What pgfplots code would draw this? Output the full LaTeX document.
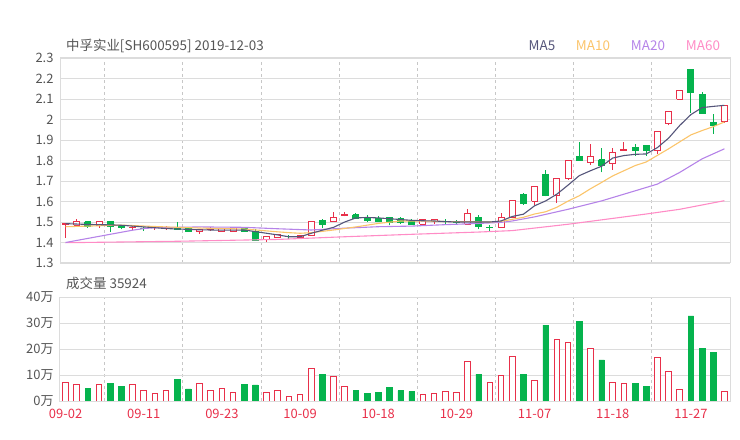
\documentclass[border=0pt]{standalone}
\usepackage{fontspec}
\setmainfont{Noto Sans CJK SC}
\usepackage{pgfplots}
\pgfplotsset{compat=1.18}
\definecolor{cred}{HTML}{E8304A}
\definecolor{cgreen}{HTML}{05B34D}
\definecolor{cma5}{HTML}{55557A}
\definecolor{cma10}{HTML}{FBC46A}
\definecolor{cma20}{HTML}{B583E8}
\definecolor{cma60}{HTML}{FF8CC6}
\definecolor{ctext}{HTML}{555555}
\definecolor{cgrid}{HTML}{DCDCDC}
\pgfplotsset{
  kbase/.style={scale only axis, width=670bp, xmin=-0.5, xmax=59.5,
    axis line style={draw=cgrid, line width=1bp},
    major tick length=0pt, minor tick length=0pt,
    ymajorgrids, grid style={draw=cgrid, line width=0.8bp},
    minor xtick={3.5,10.5,17.5,24.5,31.5,38.5,45.5,52.5},
    xminorgrids, minor grid style={draw=black!22, dash pattern=on 3bp off 3bp, line width=0.8bp},
    tick label style={font=\fontsize{13}{15}\selectfont, text=ctext},
    yticklabel style={xshift=-3bp},
    /pgf/number format/assume math mode=true},
  Rwick/.style={draw=cred, line width=1bp, mark=none, forget plot},
  Gwick/.style={draw=cgreen, line width=1bp, mark=none, forget plot},
  Rbody/.style={draw=cred, fill=white, line width=1bp, mark=none, forget plot},
  Gbody/.style={draw=cgreen, fill=cgreen, line width=1bp, mark=none, forget plot},
}
% candle: colour (R/G), index, open, close, low, high
\newcommand\candle[6]{%
  \pgfmathsetmacro\xa{#2-0.27}\pgfmathsetmacro\xb{#2+0.27}%
  \addplot[#1wick] coordinates {(#2,#5)(#2,#6)};
  \addplot[#1body] coordinates {(\xa,#3)(\xb,#3)(\xb,#4)(\xa,#4)(\xa,#3)};
}
\begin{document}
\begin{tikzpicture}
\path (0bp,0bp) rectangle (740bp,440bp);
\node[anchor=west, text=ctext, font=\fontsize{13.5}{16}\selectfont, inner sep=0] at (66bp,394bp) {中孚实业[SH600595] 2019-12-03};
\node[text=cma5, font=\fontsize{13.5}{16}\selectfont, inner sep=0] at (542bp,394bp) {MA5};
\node[text=cma10, font=\fontsize{13.5}{16}\selectfont, inner sep=0] at (593bp,394bp) {MA10};
\node[text=cma20, font=\fontsize{13.5}{16}\selectfont, inner sep=0] at (648bp,394bp) {MA20};
\node[text=cma60, font=\fontsize{13.5}{16}\selectfont, inner sep=0] at (703bp,394bp) {MA60};
\node[anchor=west, text=ctext, font=\fontsize{13.5}{16}\selectfont, inner sep=0] at (66bp,157bp) {成交量 35924};

\begin{axis}[kbase, at={(60bp,177bp)}, anchor=south west, height=205bp,
  ymin=1.3, ymax=2.3,
  ytick={1.3,1.4,1.5,1.6,1.7,1.8,1.9,2.0,2.1,2.2,2.3},
  yticklabels={1.3,1.4,1.5,1.6,1.7,1.8,1.9,2,2.1,2.2,2.3},
  xtick={0,7,14,21,28,35,42,49,56}, xticklabels={}]
% candles: colour, index, open, close, low, high
\candle{R}{0}{1.488}{1.492}{1.424}{1.497}
\candle{R}{1}{1.484}{1.502}{1.484}{1.513}
\candle{G}{2}{1.502}{1.480}{1.472}{1.502}
\candle{R}{3}{1.482}{1.502}{1.472}{1.502}
\candle{G}{4}{1.502}{1.480}{1.453}{1.502}
\candle{G}{5}{1.484}{1.471}{1.464}{1.484}
\candle{R}{6}{1.472}{1.474}{1.463}{1.479}
\candle{G}{7}{1.468}{1.466}{1.456}{1.474}
\candle{R}{8}{1.472}{1.474}{1.463}{1.482}
\candle{R}{9}{1.472}{1.474}{1.463}{1.482}
\candle{G}{10}{1.474}{1.463}{1.463}{1.502}
\candle{G}{11}{1.466}{1.453}{1.453}{1.472}
\candle{R}{12}{1.453}{1.464}{1.443}{1.464}
\candle{R}{13}{1.465}{1.467}{1.456}{1.474}
\candle{R}{14}{1.453}{1.466}{1.453}{1.466}
\candle{R}{15}{1.453}{1.472}{1.453}{1.472}
\candle{G}{16}{1.472}{1.453}{1.453}{1.472}
\candle{G}{17}{1.456}{1.412}{1.412}{1.464}
\candle{R}{18}{1.414}{1.427}{1.402}{1.427}
\candle{R}{19}{1.424}{1.437}{1.424}{1.437}
\candle{G}{20}{1.430}{1.427}{1.419}{1.435}
\candle{R}{21}{1.424}{1.435}{1.424}{1.435}
\candle{R}{22}{1.432}{1.502}{1.432}{1.502}
\candle{G}{23}{1.508}{1.489}{1.472}{1.516}
\candle{R}{24}{1.502}{1.521}{1.502}{1.550}
\candle{R}{25}{1.534}{1.536}{1.528}{1.549}
\candle{G}{26}{1.536}{1.518}{1.516}{1.544}
\candle{G}{27}{1.524}{1.508}{1.502}{1.533}
\candle{G}{28}{1.518}{1.500}{1.500}{1.531}
\candle{G}{29}{1.523}{1.497}{1.484}{1.523}
\candle{G}{30}{1.516}{1.498}{1.490}{1.524}
\candle{G}{31}{1.506}{1.490}{1.490}{1.515}
\candle{R}{32}{1.490}{1.511}{1.484}{1.511}
\candle{R}{33}{1.500}{1.511}{1.492}{1.511}
\candle{G}{34}{1.503}{1.500}{1.492}{1.515}
\candle{G}{35}{1.498}{1.496}{1.489}{1.508}
\candle{R}{36}{1.490}{1.542}{1.490}{1.562}
\candle{G}{37}{1.524}{1.480}{1.464}{1.533}
\candle{G}{38}{1.474}{1.472}{1.453}{1.484}
\candle{R}{39}{1.472}{1.521}{1.472}{1.542}
\candle{R}{40}{1.521}{1.603}{1.519}{1.603}
\candle{G}{41}{1.633}{1.590}{1.583}{1.641}
\candle{R}{42}{1.600}{1.672}{1.583}{1.672}
\candle{G}{43}{1.732}{1.628}{1.625}{1.752}
\candle{R}{44}{1.631}{1.713}{1.595}{1.713}
\candle{R}{45}{1.710}{1.801}{1.707}{1.801}
\candle{G}{46}{1.821}{1.800}{1.800}{1.890}
\candle{R}{47}{1.791}{1.821}{1.780}{1.880}
\candle{G}{48}{1.803}{1.778}{1.742}{1.860}
\candle{R}{49}{1.783}{1.840}{1.754}{1.860}
\candle{R}{50}{1.850}{1.852}{1.850}{1.890}
\candle{G}{51}{1.862}{1.849}{1.824}{1.881}
\candle{G}{52}{1.872}{1.849}{1.824}{1.872}
\candle{R}{53}{1.850}{1.942}{1.832}{1.942}
\candle{R}{54}{1.980}{2.040}{1.971}{2.040}
\candle{R}{55}{2.099}{2.140}{2.099}{2.140}
\candle{G}{56}{2.245}{2.132}{2.033}{2.245}
\candle{G}{57}{2.122}{2.029}{2.029}{2.132}
\candle{G}{58}{1.984}{1.970}{1.930}{2.029}
\candle{R}{59}{1.991}{2.070}{1.983}{2.070}
% moving averages
\addplot[cma60, line width=1.1bp, mark=none] coordinates {(0,1.399)(10,1.406)(19,1.415)(25,1.428)(31,1.440)(37,1.451)(40,1.458)(45,1.489)(52,1.539)(55,1.562)(59,1.604)};
\addplot[cma20, line width=1.1bp, mark=none] coordinates {(0,1.400)(2,1.420)(4,1.440)(6,1.460)(7,1.468)(8,1.472)(12,1.476)(16,1.474)(19,1.467)(22,1.461)(25,1.470)(28,1.477)(31,1.480)(34,1.487)(37,1.493)(39,1.498)(40,1.505)(42,1.525)(45,1.562)(48,1.603)(51,1.652)(53,1.685)(55,1.742)(57,1.808)(59,1.857)};
\addplot[cma10, line width=1.1bp, mark=none] coordinates {(0,1.477)(2,1.480)(5,1.485)(8,1.478)(10,1.474)(13,1.469)(16,1.466)(19,1.452)(20,1.448)(21,1.445)(22,1.448)(24,1.461)(26,1.476)(28,1.493)(30,1.505)(32,1.505)(34,1.502)(36,1.502)(38,1.500)(39,1.503)(40,1.513)(41,1.523)(42,1.539)(43,1.550)(44,1.572)(45,1.602)(46,1.628)(47,1.662)(48,1.693)(49,1.725)(50,1.750)(51,1.775)(52,1.793)(53,1.825)(54,1.857)(55,1.891)(56,1.925)(57,1.946)(58,1.965)(59,1.988)};
\addplot[cma5, line width=1.1bp, mark=none] coordinates {(0,1.492)(1,1.490)(2,1.488)(3,1.487)(4,1.486)(5,1.484)(6,1.480)(7,1.476)(8,1.472)(9,1.468)(10,1.466)(11,1.464)(12,1.462)(13,1.461)(14,1.460)(15,1.460)(16,1.461)(17,1.453)(18,1.445)(19,1.437)(20,1.428)(21,1.428)(22,1.445)(23,1.460)(24,1.474)(25,1.500)(26,1.520)(27,1.522)(28,1.520)(29,1.516)(30,1.512)(31,1.508)(32,1.506)(33,1.505)(34,1.502)(35,1.500)(36,1.500)(37,1.500)(38,1.500)(39,1.505)(40,1.527)(41,1.538)(42,1.579)(43,1.603)(44,1.636)(45,1.680)(46,1.726)(47,1.750)(48,1.772)(49,1.812)(50,1.824)(51,1.830)(52,1.832)(53,1.863)(54,1.909)(55,1.971)(56,2.024)(57,2.058)(58,2.064)(59,2.069)};
\end{axis}

\begin{axis}[kbase, at={(60bp,39bp)}, anchor=south west, height=104bp,
  ymin=0, ymax=40, ytick={0,10,20,30,40},
  yticklabels={0万,10万,20万,30万,40万},
  xtick={0,7,14,21,28,35,42,49,56},
  xticklabels={09-02,09-11,09-23,10-09,10-18,10-29,11-07,11-18,11-27},
  xticklabel style={text=cred, yshift=-5bp}]
\addplot[ybar, bar width=0.5, bar shift=0pt, draw=cred, fill=white, line width=1bp] coordinates {
(0,7.2)(1,6.2)(3,6.3)(6,6.4)(7,4.0)(8,2.9)(9,4.1)(12,6.8)(13,4.1)(14,5.0)(15,3.3)(18,3.1)(19,4.0)(20,1.8)(21,2.6)(22,12.6)(24,9.5)(25,5.4)(32,2.6)(33,2.9)(34,3.6)(35,3.2)(36,15.1)(38,7.1)(39,9.7)(40,17.2)(42,7.9)(44,23.6)(45,22.6)(47,20.3)(49,7.1)(50,6.8)(53,16.7)(54,11.4)(55,4.5)(59,3.59)};
\addplot[ybar, bar width=0.5, bar shift=0pt, draw=cgreen, fill=cgreen, line width=0.5bp] coordinates {
(2,5.0)(4,6.7)(5,5.6)(10,8.3)(11,4.7)(16,6.5)(17,6.2)(23,10.3)(26,4.2)(27,2.9)(28,3.3)(29,5.3)(30,4.0)(31,3.6)(37,10.3)(41,10.1)(43,29.2)(46,30.6)(48,15.8)(51,6.8)(52,5.6)(56,32.7)(57,20.1)(58,18.7)};
\end{axis}
\end{tikzpicture}
\end{document}
